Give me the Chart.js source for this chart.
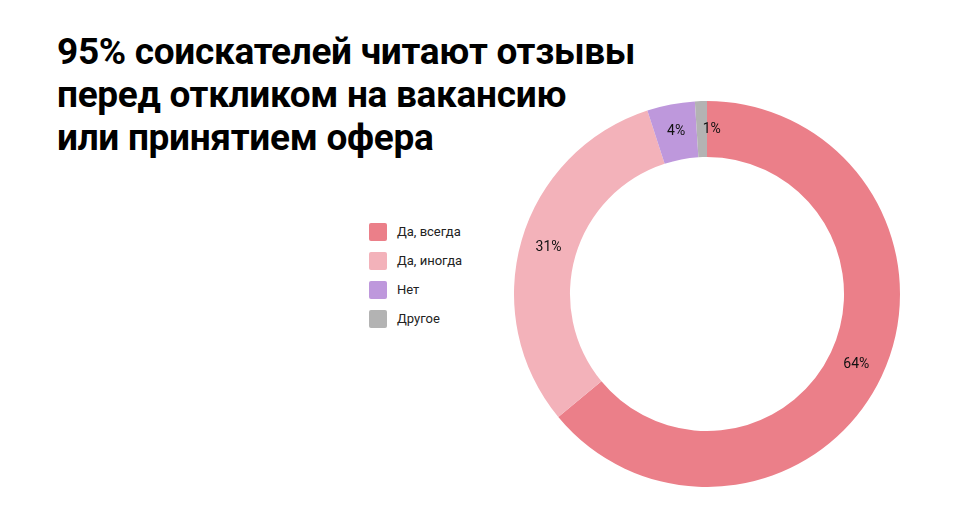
<!DOCTYPE html>
<html>
<head>
<meta charset="utf-8">
<script src="https://cdn.jsdelivr.net/npm/chart.js"></script>
<style>
  body { margin: 0; width: 957px; height: 510px; background: #fff; position: relative; font-family: Roboto, sans-serif; overflow: hidden; }
  h1 { position: absolute; left: 57px; top: 30px; margin: 0; font-size: 37px; line-height: 43px; font-weight: 700; color: #000; letter-spacing: -0.3px; }
  #legend { position: absolute; left: 369px; top: 223px; }
  .item { height: 29px; display: flex; align-items: flex-start; font-size: 13px; color: #222; }
  .sw { width: 18px; height: 18px; border-radius: 2px; margin-right: 10px; }
  .item span { line-height: 18px; }
  #wrap { position: absolute; left: 514px; top: 101px; width: 386px; height: 386px; }
</style>
</head>
<body>
<h1>95% соискателей читают отзывы<br>перед откликом на вакансию<br>или принятием офера</h1>
<div id="legend"></div>
<div id="wrap"><canvas id="grafico"></canvas></div>
<script>
  var categorias = ["Да, всегда", "Да, иногда", "Нет", "Другое"];
  var valores = [64, 31, 4, 1];
  var colores = ["#EB7F89", "#F3B2BA", "#BE98DC", "#B3B3B3"];

  var leyenda = document.getElementById("legend");
  categorias.forEach(function (c, i) {
    var d = document.createElement("div");
    d.className = "item";
    d.innerHTML = '<div class="sw" style="background:' + colores[i] + '"></div><span>' + c + '</span>';
    leyenda.appendChild(d);
  });

  // porcentajes dentro del anillo
  var etiquetas = {
    id: "etiquetas",
    afterDatasetsDraw: function (chart) {
      var ctx = chart.ctx;
      var meta = chart.getDatasetMeta(0);
      ctx.save();
      ctx.font = "14px Roboto, sans-serif";
      ctx.fillStyle = "#111";
      ctx.textAlign = "center";
      ctx.textBaseline = "middle";
      meta.data.forEach(function (arc, i) {
        var p = arc.tooltipPosition();
        var dx = i === 3 ? 10 : 0;
        ctx.fillText(valores[i] + "%", p.x + dx, p.y);
      });
      ctx.restore();
    }
  };

  new Chart(document.getElementById("grafico").getContext("2d"), {
    type: "doughnut",
    data: {
      labels: categorias,
      datasets: [{ data: valores, backgroundColor: colores, borderWidth: 0 }]
    },
    options: {
      responsive: true,
      maintainAspectRatio: false,
      animation: false,
      cutout: "71%",
      plugins: { legend: { display: false }, tooltip: { enabled: false } }
    },
    plugins: [etiquetas]
  });
</script>
</body>
</html>
